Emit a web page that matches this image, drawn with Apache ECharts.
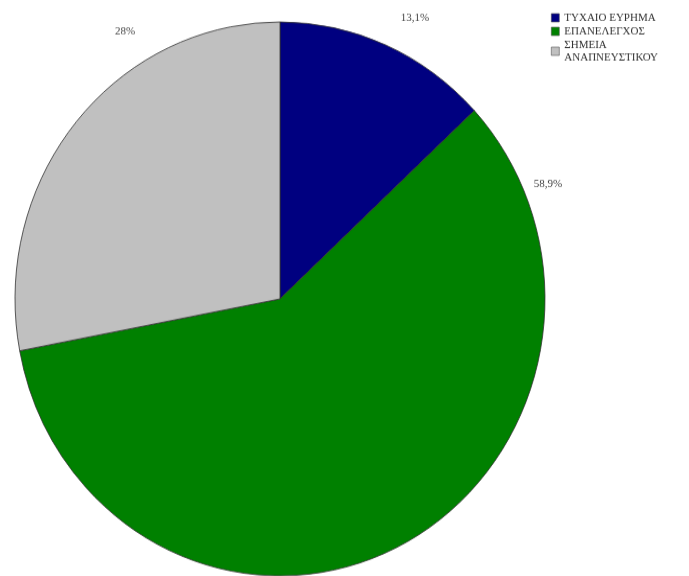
<!DOCTYPE html>
<html>
<head>
<meta charset="utf-8">
<style>
  html, body { margin: 0; padding: 0; background: #fff; overflow: hidden; }
  #wrap { width: 689px; height: 576px; overflow: hidden; }
  /* the figure is drawn slightly taller than wide */
  #chart { width: 689px; height: 552px; transform: scaleY(1.045); transform-origin: 0 0; }
</style>
<script src="https://cdn.jsdelivr.net/npm/echarts@6/dist/echarts.min.js"></script>
</head>
<body>
<div id="wrap"><div id="chart"></div></div>
<script>
// Slice names and shares (percent)
const categories = ['ΤΥΧΑΙΟ ΕΥΡΗΜΑ', 'ΕΠΑΝΕΛΕΓΧΟΣ', 'ΣΗΜΕΙΑ\nΑΝΑΠΝΕΥΣΤΙΚΟΥ'];
const shares = [13.1, 58.9, 28];
const colors = ['#000080', '#008000', '#c0c0c0'];

// Where each percentage label sits, by slice index
const labelSpots = [[415, 17], [548, 176], [125, 30]];

const fmt = v => String(v).replace('.', ',') + '%';
const serif = '"Liberation Serif", "DejaVu Serif", serif';

const chart = echarts.init(document.getElementById('chart'), null, { renderer: 'canvas' });
chart.setOption({
  animation: false,
  backgroundColor: '#ffffff',
  legend: {
    orient: 'vertical',
    left: 546,
    top: 6,
    itemWidth: 8,
    itemHeight: 8,
    itemGap: 1,
    icon: 'rect',
    textStyle: {
      fontFamily: serif,
      fontSize: 11,
      color: '#333',
      lineHeight: 12
    },
    itemStyle: { borderColor: '#555', borderWidth: 0.6 },
    data: categories
  },
  series: [{
    type: 'pie',
    center: [280, 286],
    radius: 265,
    startAngle: 90,
    clockwise: true,
    avoidLabelOverlap: false,
    itemStyle: { borderColor: '#333', borderWidth: 0.8 },
    label: {
      show: true,
      position: 'outside',
      formatter: p => fmt(p.value),
      fontFamily: serif,
      fontSize: 11,
      color: '#444'
    },
    labelLine: { show: false },
    labelLayout: p => ({
      x: labelSpots[p.dataIndex][0],
      y: labelSpots[p.dataIndex][1],
      align: 'center',
      verticalAlign: 'middle'
    }),
    emphasis: { disabled: true },
    data: categories.map((name, i) => ({
      name: name,
      value: shares[i],
      itemStyle: { color: colors[i] }
    }))
  }]
});
</script>
</body>
</html>
